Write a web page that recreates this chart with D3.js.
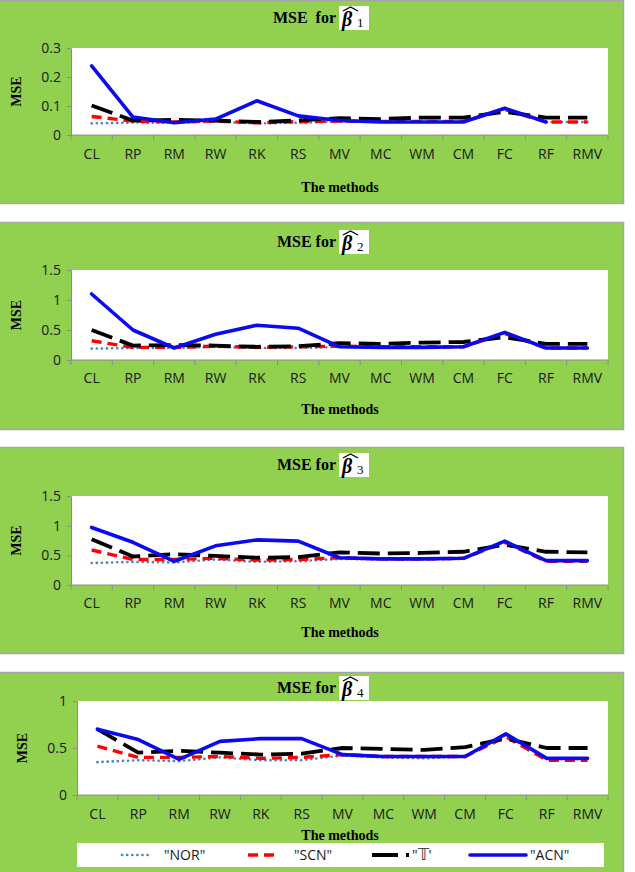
<!DOCTYPE html>
<html>
<head>
<meta charset="utf-8">
<script src="https://cdn.jsdelivr.net/npm/d3@7"></script>
<style>
  body { margin: 0; background: #fff; }
  svg { display: block; }
</style>
</head>
<body>
<svg id="chart" width="635" height="872"></svg>
<script>
const methods = ["CL","RP","RM","RW","RK","RS","MV","MC","WM","CM","FC","RF","RMV"];
const seriesNames = ["\"NOR\"", "\"SCN\"", "\"T'", "\"ACN\""];

// beta 1
const nor1 = [0.040,0.043,0.042,0.046,0.040,0.042,0.046,0.045,0.045,0.045,0.090,0.045,0.045];
const scn1 = [0.064,0.048,0.045,0.048,0.042,0.046,0.048,0.047,0.047,0.047,0.088,0.045,0.045];
const t1   = [0.102,0.050,0.052,0.050,0.045,0.050,0.058,0.055,0.060,0.060,0.080,0.060,0.060];
const acn1 = [0.238,0.062,0.042,0.055,0.118,0.066,0.050,0.045,0.045,0.045,0.092,0.045,null];
// beta 2
const nor2 = [0.19,0.20,0.20,0.22,0.20,0.20,0.22,0.21,0.21,0.22,0.45,0.20,0.20];
const scn2 = [0.32,0.21,0.21,0.23,0.21,0.22,0.23,0.22,0.22,0.22,0.44,0.20,0.20];
const t2   = [0.50,0.24,0.25,0.24,0.22,0.23,0.28,0.27,0.29,0.30,0.38,0.27,0.27];
const acn2 = [1.10,0.50,0.20,0.43,0.58,0.53,0.22,0.21,0.21,0.22,0.46,0.20,0.20];
// beta 3
const nor3 = [0.37,0.39,0.38,0.43,0.39,0.40,0.44,0.43,0.43,0.44,0.73,0.41,0.41];
const scn3 = [0.59,0.43,0.43,0.45,0.42,0.43,0.46,0.44,0.44,0.45,0.72,0.40,0.40];
const t3   = [0.77,0.48,0.52,0.49,0.46,0.47,0.55,0.53,0.54,0.56,0.68,0.56,0.55];
const acn3 = [0.97,0.72,0.40,0.66,0.76,0.74,0.46,0.44,0.44,0.45,0.74,0.41,0.41];
// beta 4
const nor4 = [0.35,0.37,0.36,0.40,0.37,0.37,0.42,0.40,0.39,0.41,0.64,0.39,0.39];
const scn4 = [0.52,0.40,0.40,0.41,0.39,0.40,0.43,0.41,0.41,0.41,0.62,0.37,0.37];
const t4   = [0.70,0.45,0.47,0.45,0.43,0.44,0.50,0.49,0.48,0.51,0.60,0.50,0.50];
const acn4 = [0.70,0.59,0.38,0.57,0.60,0.60,0.43,0.41,0.41,0.41,0.65,0.39,0.39];

const ticks1 = [0, 0.1, 0.2, 0.3];
const ticks2 = [0, 0.5, 1, 1.5];
const ticks3 = [0, 0.5, 1, 1.5];
const ticks4 = [0, 0.5, 1];

const styles = [
  {color: "#4F81BD", width: 2.6, dash: "0.1 5", cap: "round"},
  {color: "#FF0000", width: 3.4, dash: "10 6", cap: "butt"},
  {color: "#000000", width: 3.8, dash: "22 8", cap: "butt"},
  {color: "#0A0AF0", width: 3.6, dash: null, cap: "round"}
];

const svg = d3.select("#chart");
const serif = "'Liberation Serif', 'Times New Roman', serif";
const sans = "'Open Sans', 'Liberation Sans', sans-serif";

function drawPanel(cfg) {
  const g = svg.append("g");

  g.append("rect")
    .attr("x", -2).attr("y", cfg.top + 0.5)
    .attr("width", 625.5).attr("height", cfg.bottom - cfg.top)
    .attr("fill", "#92D050").attr("stroke", "#A5A5A5").attr("stroke-width", 1.5);

  let x = d3.scaleBand(methods, [cfg.left, 608]);
  let y = d3.scaleLinear().domain([0, d3.max(cfg.ticks)]).range([cfg.py1, cfg.py0]);

  g.append("rect")
    .attr("x", cfg.left).attr("y", cfg.py0)
    .attr("width", 608 - cfg.left).attr("height", cfg.py1 - cfg.py0)
    .attr("fill", "#fff");

  // y axis
  let ya = g.append("g")
    .attr("transform", `translate(${cfg.left},0)`)
    .call(d3.axisLeft(y).tickValues(cfg.ticks).tickSize(4).tickPadding(6).tickFormat(d => String(d)));
  ya.selectAll("line,path").attr("stroke", "#8C8C8C");
  ya.selectAll("text").attr("font-family", sans).attr("font-size", 14).attr("fill", "#1a1a1a");

  // x axis, ticks between categories like Excel
  let xa = g.append("g")
    .attr("transform", `translate(0,${cfg.py1})`)
    .call(d3.axisBottom(x).tickSize(0).tickPadding(cfg.labelGap));
  xa.select("path").attr("stroke", "#8C8C8C").attr("d", `M${cfg.left},0H608`);
  xa.selectAll("text").attr("font-family", sans).attr("font-size", 14).attr("fill", "#1a1a1a");
  xa.selectAll("line.sep").data(d3.range(methods.length + 1))
    .join("line").attr("class", "sep")
    .attr("x1", i => cfg.left + i * x.step()).attr("x2", i => cfg.left + i * x.step())
    .attr("y1", 0).attr("y2", 5)
    .attr("stroke", "#8C8C8C");

  // lines
  let line = d3.line()
    .defined(d => d.v != null)
    .x(d => x(d.m) + x.bandwidth() / 2)
    .y(d => y(d.v));

  cfg.series.forEach((s, i) => {
    let st = styles[i];
    g.append("path")
      .datum(methods.map((m, j) => ({m: m, v: s[j]})))
      .attr("d", line)
      .attr("fill", "none")
      .attr("stroke", st.color)
      .attr("stroke-width", st.width)
      .attr("stroke-dasharray", st.dash)
      .attr("stroke-linecap", st.cap)
      .attr("stroke-linejoin", "round");
  });

  // title
  g.append("text")
    .attr("x", 336).attr("y", cfg.titleY + 5)
    .attr("text-anchor", "end")
    .attr("font-family", serif).attr("font-weight", "bold").attr("font-size", 16)
    .style("white-space", "pre")
    .text(cfg.title);
  g.append("rect")
    .attr("x", 339).attr("y", cfg.titleY - 12)
    .attr("width", 30).attr("height", 24).attr("fill", "#fff");
  g.append("text")
    .attr("x", 342).attr("y", cfg.titleY + 8)
    .attr("font-family", serif).attr("font-weight", "bold").attr("font-style", "italic")
    .attr("font-size", 20)
    .text("\u03B2");
  g.append("path")
    .attr("d", `M343,${cfg.titleY - 7}L350.5,${cfg.titleY - 11}L358,${cfg.titleY - 7}`)
    .attr("fill", "none").attr("stroke", "#000").attr("stroke-width", 1.3);
  g.append("text")
    .attr("x", 357).attr("y", cfg.titleY + 9)
    .attr("font-family", serif).attr("font-size", 13)
    .text(cfg.sub);

  g.append("text")
    .attr("x", 340).attr("y", cfg.xTitleY + 5)
    .attr("text-anchor", "middle")
    .attr("font-family", serif).attr("font-weight", "bold").attr("font-size", 14)
    .text("The methods");

  g.append("text")
    .attr("transform", `translate(${cfg.left - 50},${(cfg.py0 + cfg.py1) / 2}) rotate(-90)`)
    .attr("text-anchor", "middle")
    .attr("font-family", serif).attr("font-weight", "bold").attr("font-size", 14)
    .text("MSE");

  return g;
}

drawPanel({top: 0, bottom: 203, left: 71, py0: 48, py1: 135, ticks: ticks1,
  title: "MSE  for", sub: "1", titleY: 18, labelGap: 14, xTitleY: 187,
  series: [nor1, scn1, t1, acn1]});
drawPanel({top: 222, bottom: 429, left: 71, py0: 270, py1: 360, ticks: ticks2,
  title: "MSE for", sub: "2", titleY: 242, labelGap: 13, xTitleY: 409,
  series: [nor2, scn2, t2, acn2]});
drawPanel({top: 447, bottom: 653, left: 71, py0: 496, py1: 585, ticks: ticks3,
  title: "MSE for", sub: "3", titleY: 465, labelGap: 13, xTitleY: 632,
  series: [nor3, scn3, t3, acn3]});
let p4 = drawPanel({top: 672, bottom: 880, left: 77, py0: 701, py1: 795, ticks: ticks4,
  title: "MSE for", sub: "4", titleY: 688, labelGap: 14, xTitleY: 835,
  series: [nor4, scn4, t4, acn4]});

// legend
let leg = p4.append("g");
leg.append("rect").attr("x", 77).attr("y", 843).attr("width", 527).attr("height", 24).attr("fill", "#fff");
const legX = [122, 248, 372, 470];
const legLen = [28, 32, 40, 56];
seriesNames.forEach((name, i) => {
  let st = styles[i];
  let lx = legX[i];
  leg.append("line")
    .attr("x1", lx).attr("x2", lx + legLen[i])
    .attr("y1", 855).attr("y2", 855)
    .attr("stroke", st.color).attr("stroke-width", st.width)
    .attr("stroke-dasharray", i == 2 ? "26 8 3 8" : st.dash)
    .attr("stroke-linecap", st.cap);
  let t = leg.append("text")
    .attr("x", lx + legLen[i] + (i == 2 ? 0 : i == 3 ? 4 : 14)).attr("y", 860)
    .attr("font-family", sans).attr("font-size", 14).attr("fill", "#1a1a1a");
  if (i == 2) {
    t.append("tspan").text("\"");
    t.append("tspan").attr("font-family", serif).attr("font-size", 16).text("\uD835\uDD4B");
    t.append("tspan").text("'");
  } else {
    t.text(name);
  }
});
</script>
</body>
</html>
